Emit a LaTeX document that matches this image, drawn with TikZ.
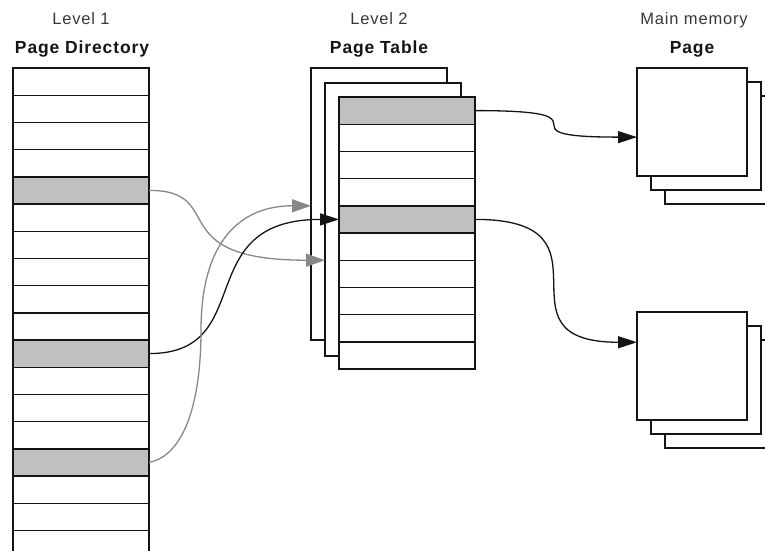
\documentclass[tikz,border=0pt]{standalone}
\usepackage{fontspec}
\setmainfont{Liberation Sans}[LetterSpace=5]
\usetikzlibrary{arrows.meta,calc}
\definecolor{cellgray}{RGB}{192,192,192}
\definecolor{linkgray}{RGB}{135,135,135}
\definecolor{inkline}{RGB}{20,20,20}

\begin{document}
\begin{tikzpicture}[x=1pt,y=-1pt,
  cell/.style={draw=inkline, line width=1.4pt, fill=white, minimum width=136pt,
    minimum height=27.2pt, inner sep=0pt, outer sep=0pt, anchor=north west},
  sheet/.style={draw=inkline, line width=1.4pt, fill=white, inner sep=0pt,
    outer sep=0pt, anchor=north west},
  tablesheet/.style={sheet, minimum width=136pt, minimum height=272pt},
  pagesheet/.style={sheet, minimum width=110pt, minimum height=108pt},
  level/.style={anchor=base, inner sep=0pt, text=black!78,
    font=\fontsize{16.5}{20}\selectfont},
  title/.style={anchor=base, inner sep=0pt, text=black!92,
    font=\fontsize{17.5}{21}\selectfont\bfseries},
  link/.style={draw=inkline, line width=1.3pt, -{Triangle[length=19pt,width=12pt]}},
  greylink/.style={link, draw=linkgray, -{Triangle[length=19pt,width=13pt,fill=linkgray]}}
]
\useasboundingbox (0,0) rectangle (765,551);

% level 1: page directory
\foreach \i/\f in {1/white,2/white,3/white,4/white,5/cellgray,6/white,7/white,
    8/white,9/white,10/white,11/cellgray,12/white,13/white,14/white,15/cellgray,
    16/white,17/white,18/white}
  \node[cell, fill=\f] (pd\i) at (13,{68+(\i-1)*27.2}) {};

% level 2: stacked page tables
\node[tablesheet] (ptback) at (311,68) {};
\node[tablesheet, minimum height=273pt] (ptmid) at (325,83) {};
\foreach \i/\f in {1/cellgray,2/white,3/white,4/white,5/cellgray,6/white,
    7/white,8/white,9/white,10/white}
  \node[cell, fill=\f] (pt\i) at (339,{97+(\i-1)*27.2}) {};

% main memory: two stacks of pages
\node[pagesheet] (pageA3) at (665,96) {};
\node[pagesheet] (pageA2) at (651,82) {};
\node[pagesheet] (pageA)  at (637,68) {};
\node[pagesheet] (pageB3) at (665,340) {};
\node[pagesheet] (pageB2) at (651,326) {};
\node[pagesheet] (pageB)  at (637,312) {};

% column headings
\node[level] (lv1) at (81,25) {Level 1};
\node[title] (pdtitle) at (82,53) {Page Directory};
\node[level] (lv2) at (379,25) {Level 2};
\node[title] (pttitle) at (379,53) {Page Table};
\node[level] (lv3) at (694,25) {Main memory};
\node[title] (pgtitle) at (692,53) {Page};

% arrow targets on the pages
\coordinate (inA) at ($(pageA.north west)!0.64!(pageA.south west)$);
\coordinate (inB) at ($(pageB.north west)!0.28!(pageB.south west)$);

% page table entries -> pages
\draw[link] (pt1.east) .. controls +(150,0) and +(-150,0) .. (inA);
\draw[link] (pt5.east) .. controls +(150,0) and +(-150,0) .. (inB);

% directory entries -> page tables
\draw[greylink] (pd5.east) .. controls +(80,0) and +(-165,0) .. (ptmid.west |- pt6.south);
\draw[link] (pd11.east) .. controls +(110,0) and +(-150,0) .. (pt5.west);
\draw[greylink] (pd15.east) .. controls +(36,-7) and +(0,70) .. ++(52,-132)
  .. controls +(0,-90) and +(-70,0) .. (ptback.west |- pt5.north);
\end{tikzpicture}
\end{document}
